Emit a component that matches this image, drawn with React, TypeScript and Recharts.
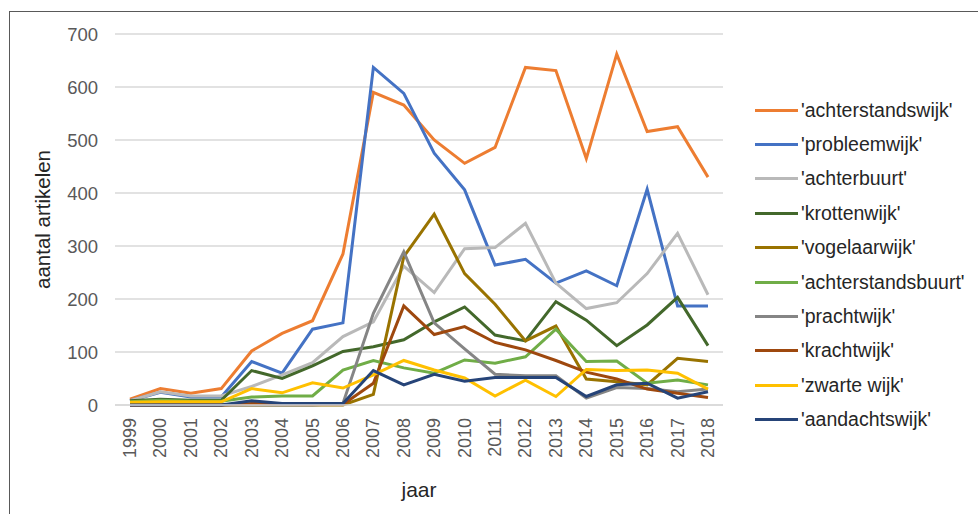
import { LineChart, Line, XAxis, YAxis, CartesianGrid, Label } from 'recharts';

const years = [
  '1999', '2000', '2001', '2002', '2003', '2004', '2005', '2006', '2007', '2008',
  '2009', '2010', '2011', '2012', '2013', '2014', '2015', '2016', '2017', '2018',
];

const achterstandswijk = [11, 31, 22, 31, 102, 135, 159, 285, 590, 566, 500, 456, 486, 637, 631, 465, 662, 516, 525, 430];
const probleemwijk = [8, 24, 15, 15, 82, 60, 143, 155, 637, 588, 475, 406, 264, 275, 230, 253, 225, 407, 187, 187];
const achterbuurt = [8, 25, 17, 17, 35, 57, 80, 129, 157, 262, 212, 295, 297, 343, 230, 182, 193, 248, 324, 208];
const krottenwijk = [8, 11, 9, 9, 65, 50, 74, 101, 110, 123, 157, 185, 132, 121, 195, 160, 112, 151, 203, 112];
const vogelaarwijk = [0, 0, 0, 0, 0, 0, 0, 0, 20, 280, 360, 248, 190, 121, 149, 49, 44, 38, 88, 82];
const achterstandsbuurt = [6, 9, 7, 7, 15, 17, 17, 66, 84, 70, 60, 85, 79, 91, 143, 82, 83, 41, 47, 38];
const prachtwijk = [0, 0, 0, 0, 0, 0, 0, 3, 173, 289, 155, 106, 58, 55, 55, 13, 33, 31, 25, 30];
const krachtwijk = [0, 0, 0, 0, 3, 2, 1, 1, 41, 187, 133, 148, 118, 104, 84, 62, 49, 30, 22, 14];
const zwarteWijk = [5, 6, 6, 6, 31, 23, 42, 32, 57, 84, 66, 51, 17, 47, 16, 67, 65, 66, 60, 30];
const aandachtswijk = [0, 0, 0, 0, 8, 3, 3, 3, 65, 38, 58, 45, 52, 52, 52, 16, 38, 41, 13, 25];

const yTicks = [0, 100, 200, 300, 400, 500, 600, 700];

const series = [
  { key: 'achterstandswijk', label: "'achterstandswijk'", values: achterstandswijk, color: '#ED7D31' },
  { key: 'probleemwijk', label: "'probleemwijk'", values: probleemwijk, color: '#4472C4' },
  { key: 'achterbuurt', label: "'achterbuurt'", values: achterbuurt, color: '#B9B9B9' },
  { key: 'krottenwijk', label: "'krottenwijk'", values: krottenwijk, color: '#43682B' },
  { key: 'vogelaarwijk', label: "'vogelaarwijk'", values: vogelaarwijk, color: '#997300' },
  { key: 'achterstandsbuurt', label: "'achterstandsbuurt'", values: achterstandsbuurt, color: '#70AD47' },
  { key: 'prachtwijk', label: "'prachtwijk'", values: prachtwijk, color: '#858585' },
  { key: 'krachtwijk', label: "'krachtwijk'", values: krachtwijk, color: '#9E480E' },
  { key: 'zwarteWijk', label: "'zwarte wijk'", values: zwarteWijk, color: '#FFC000' },
  { key: 'aandachtswijk', label: "'aandachtswijk'", values: aandachtswijk, color: '#264478' },
];

const data = years.map((year, i) => {
  const row: Record<string, string | number> = { year };
  series.forEach((s) => {
    row[s.key] = s.values[i];
  });
  return row;
});

const FONT = '"Liberation Sans", Arial, sans-serif';

const YearTick = ({ x, y, payload }: any) => (
  <g transform={`translate(${x},${y})`}>
    <text
      transform="rotate(-90)"
      x={-13}
      y={0}
      textAnchor="end"
      dominantBaseline="central"
      fill="#595959"
      fontSize={18}
      fontFamily={FONT}
    >
      {payload.value}
    </text>
  </g>
);

const App = () => {
  return (
    <div
      style={{
        position: 'fixed',
        left: 0,
        top: 0,
        width: 978,
        height: 514,
        overflow: 'hidden',
        background: '#fff',
        fontFamily: FONT,
      }}
    >
      <div
        style={{
          position: 'absolute',
          left: 9,
          top: 11,
          width: 1000,
          height: 600,
          border: '1px solid #595959',
        }}
      />
      <div style={{ position: 'absolute', left: 0, top: 0 }}>
        <LineChart
          width={978}
          height={514}
          data={data}
          margin={{ top: 34, right: 255, bottom: 49, left: 0 }}
        >
          <CartesianGrid vertical={false} stroke="#d9d9d9" strokeWidth={1.5} />
          <XAxis
            dataKey="year"
            interval={0}
            padding={{ left: 15, right: 15 }}
            tickLine={false}
            axisLine={{ stroke: '#d9d9d9', strokeWidth: 1.5 }}
            tickSize={0}
            tickMargin={0}
            height={60}
            tick={<YearTick />}
          >
            <Label
              content={({ viewBox }: any) => (
                <text
                  x={viewBox.x + viewBox.width / 2}
                  y={viewBox.y + 92}
                  textAnchor="middle"
                  fill="#262626"
                  fontSize={21}
                  fontFamily={FONT}
                >
                  jaar
                </text>
              )}
            />
          </XAxis>
          <YAxis
            width={115}
            domain={[0, 700]}
            ticks={yTicks}
            interval={0}
            tickLine={false}
            axisLine={false}
            tickMargin={11}
            tick={{ fill: '#595959', fontSize: 18.5, fontFamily: FONT }}
          >
            <Label
              content={({ viewBox }: any) => {
                const cx = viewBox.x + 42;
                const cy = viewBox.y + viewBox.height / 2;
                return (
                  <text
                    x={cx}
                    y={cy}
                    transform={`rotate(-90, ${cx}, ${cy})`}
                    textAnchor="middle"
                    dominantBaseline="central"
                    fill="#262626"
                    fontSize={20.5}
                    fontFamily={FONT}
                  >
                    aantal artikelen
                  </text>
                );
              }}
            />
          </YAxis>
          {series.map((s) => (
            <Line
              key={s.key}
              type="linear"
              dataKey={s.key}
              name={s.label}
              stroke={s.color}
              strokeWidth={3}
              dot={false}
              activeDot={false}
              isAnimationActive={false}
            />
          ))}
        </LineChart>
      </div>
      <div style={{ position: 'absolute', left: 755, top: 93 }}>
        {series.map((s) => (
          <div
            key={s.key}
            style={{ display: 'flex', alignItems: 'center', height: 34.4 }}
          >
            <span
              style={{
                display: 'inline-block',
                width: 43,
                height: 3,
                background: s.color,
                marginRight: 3,
              }}
            />
            <span style={{ fontSize: 19.5, color: '#262626', whiteSpace: 'nowrap' }}>
              {s.label}
            </span>
          </div>
        ))}
      </div>
    </div>
  );
};

export default App;
